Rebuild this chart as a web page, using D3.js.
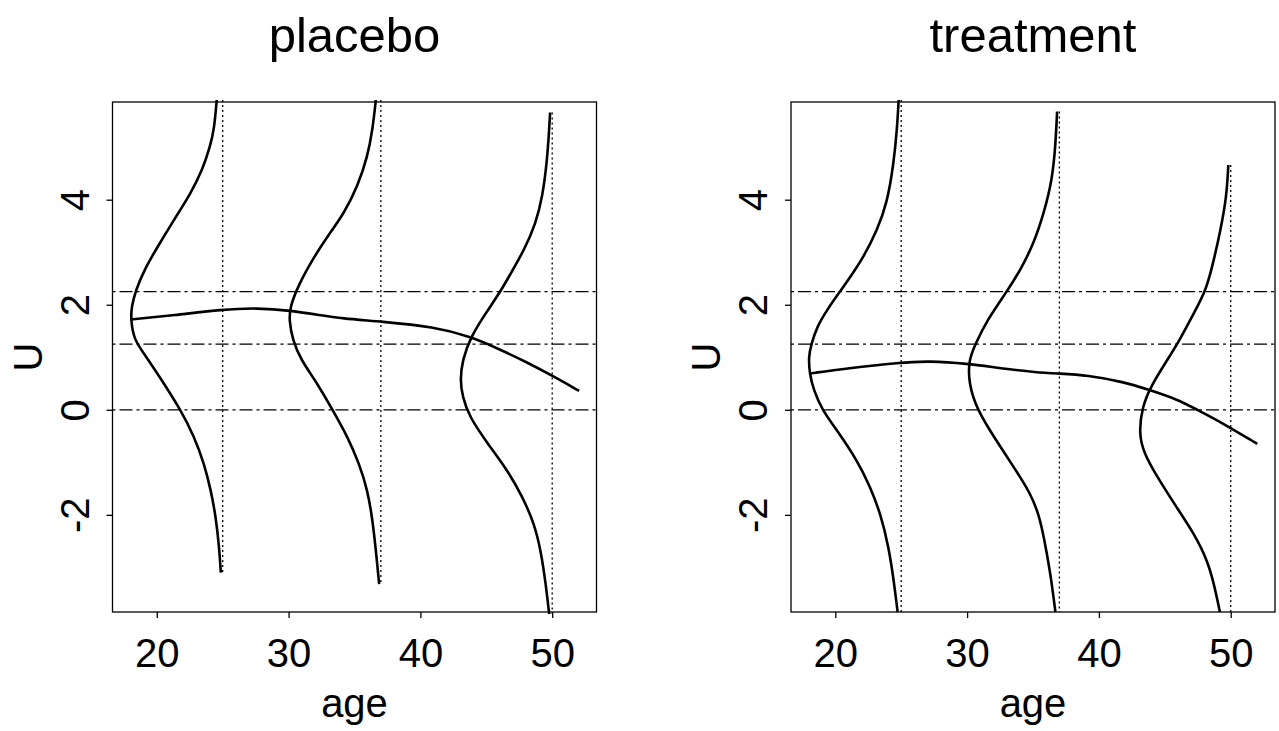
<!DOCTYPE html>
<html>
<head>
<meta charset="utf-8">
<script src="https://cdn.jsdelivr.net/npm/d3@7"></script>
<style>
  body { margin: 0; background: #fff; }
  svg { display: block; }
  text { font-family: "Liberation Sans", Arial, Helvetica, sans-serif; fill: #000; }
</style>
</head>
<body>
<svg id="chart" width="1279" height="731"></svg>
<script>
// Axis ticks and reference levels
const ageTicks = [20, 30, 40, 50];
const uTicks = [-2, 0, 2, 4];
const refLevels = [0, 1.25, 2.25];
const sliceAges = [25, 37, 50];
const panelTitles = ["placebo", "treatment"];

// Fitted mean of U over age, [age, U]
const placeboMean = [[18.03,1.72],[21.31,1.80],[24.98,1.91],[27.64,1.94],[30.17,1.89],[32.44,1.80],[33.96,1.74],[37.00,1.68],[41.04,1.58],[43.82,1.39],[45.59,1.20],[48.13,0.90],[50.14,0.63],[52.04,0.36]];
const treatmentMean = [[18.05,0.69],[20.89,0.79],[24.94,0.90],[27.08,0.93],[30.00,0.88],[32.53,0.79],[35.30,0.71],[36.96,0.69],[39.11,0.66],[41.89,0.53],[43.79,0.38],[45.94,0.20],[47.46,0.00],[49.23,-0.23],[52.02,-0.65]];

// Conditional density of U at ages 25, 37, 50, drawn sideways to the left of each age: [age, U]
const placebo25 = [[24.55,5.90],[24.35,5.33],[24.04,5.01],[23.47,4.57],[22.58,4.12],[21.31,3.62],[20.05,3.10],[19.04,2.66],[18.41,2.28],[18.08,1.96],[18.03,1.71],[18.28,1.33],[19.04,1.07],[20.05,0.69],[21.82,0.00],[22.83,-0.51],[23.59,-1.02],[24.10,-1.53],[24.48,-2.04],[24.73,-2.61],[24.86,-3.10]];
const placebo37 = [[36.62,5.90],[36.37,5.33],[35.99,4.82],[35.23,4.25],[34.21,3.74],[32.95,3.30],[31.93,2.91],[30.75,2.38],[30.11,1.96],[30.04,1.71],[30.30,1.33],[30.93,0.95],[32.19,0.50],[33.33,0.00],[34.47,-0.51],[35.35,-1.02],[35.99,-1.53],[36.37,-2.10],[36.62,-2.67],[36.87,-3.32]];
const placebo50 = [[49.84,5.66],[49.77,5.33],[49.59,4.69],[49.26,4.06],[48.76,3.55],[47.87,3.04],[46.86,2.60],[46.10,2.26],[44.96,1.84],[43.82,1.39],[43.19,0.95],[43.01,0.57],[43.19,0.25],[43.70,-0.13],[45.09,-0.64],[46.61,-1.15],[47.75,-1.66],[48.63,-2.16],[49.13,-2.67],[49.51,-3.31],[49.77,-3.89]];
const treatment25 = [[24.81,5.90],[24.68,5.33],[24.43,4.69],[23.93,3.93],[23.17,3.42],[22.15,2.91],[21.14,2.53],[20.38,2.26],[19.37,1.90],[18.61,1.58],[18.18,1.25],[17.97,1.01],[18.05,0.69],[18.35,0.38],[18.99,0.00],[20.13,-0.39],[21.65,-0.96],[22.66,-1.47],[23.42,-1.97],[24.05,-2.61],[24.43,-3.24],[24.73,-3.85]];
const treatment37 = [[36.83,5.68],[36.70,5.01],[36.45,4.37],[35.82,3.74],[35.06,3.17],[34.05,2.66],[33.04,2.26],[31.52,1.71],[30.63,1.25],[30.12,0.95],[30.12,0.50],[30.76,0.00],[32.02,-0.51],[33.54,-1.09],[34.81,-1.59],[35.45,-2.00],[35.82,-2.42],[36.33,-3.12],[36.70,-3.85]];
const treatment50 = [[49.82,4.66],[49.69,4.06],[49.23,3.42],[48.60,2.72],[48.09,2.26],[47.21,1.84],[46.07,1.30],[45.19,0.95],[43.92,0.44],[43.29,0.06],[43.03,-0.45],[43.41,-0.83],[44.43,-1.28],[45.69,-1.78],[47.21,-2.35],[48.22,-2.86],[48.73,-3.31],[49.18,-3.85]];

const panels = [
  { title: panelTitles[0], mean: placeboMean, slices: [placebo25, placebo37, placebo50], left: 112.5 },
  { title: panelTitles[1], mean: treatmentMean, slices: [treatment25, treatment37, treatment50], left: 791 }
];

const svg = d3.select("#chart");
const plotTop = 102, plotBottom = 612, plotWidth = 484;
const ageDomain = [16.64, 53.36];
const uDomain = [-3.85, 5.86];
const tickFont = 40;

panels.forEach((p, i) => {
  const x = d3.scaleLinear().domain(ageDomain).range([p.left, p.left + plotWidth]);
  const y = d3.scaleLinear().domain(uDomain).range([plotBottom, plotTop]);
  const cx = p.left + plotWidth / 2;
  const g = svg.append("g");

  const clipId = "clip" + i;
  svg.append("clipPath").attr("id", clipId)
    .append("rect")
    .attr("x", p.left - 2).attr("y", plotTop - 2)
    .attr("width", plotWidth + 4).attr("height", plotBottom - plotTop + 4);

  const plot = g.append("g").attr("clip-path", `url(#${clipId})`);

  // Horizontal reference levels (dash-dot)
  plot.selectAll("line.ref").data(refLevels).join("line")
    .attr("class", "ref")
    .attr("x1", p.left).attr("x2", p.left + plotWidth)
    .attr("y1", d => y(d)).attr("y2", d => y(d))
    .attr("stroke", "#000").attr("stroke-width", 1.3)
    .attr("stroke-dasharray", "3,4,13,4");

  // Vertical dotted lines at each slice age, spanning the density's range
  plot.selectAll("line.slice").data(p.slices).join("line")
    .attr("class", "slice")
    .attr("x1", (d, j) => x(sliceAges[j])).attr("x2", (d, j) => x(sliceAges[j]))
    .attr("y1", d => y(d3.max(d, v => v[1])))
    .attr("y2", d => y(d3.min(d, v => v[1])))
    .attr("stroke", "#000").attr("stroke-width", 1.3)
    .attr("stroke-dasharray", "2,3");

  const line = d3.line()
    .x(d => x(d[0])).y(d => y(d[1]))
    .curve(d3.curveBasis);

  // Density curves
  plot.selectAll("path.dens").data(p.slices).join("path")
    .attr("class", "dens")
    .attr("d", line)
    .attr("fill", "none").attr("stroke", "#000").attr("stroke-width", 2.6)
    .attr("stroke-linejoin", "round");

  // Mean curve
  plot.append("path")
    .datum(p.mean)
    .attr("d", line)
    .attr("fill", "none").attr("stroke", "#000").attr("stroke-width", 2.6)
    .attr("stroke-linejoin", "round");

  // Frame
  g.append("rect")
    .attr("x", p.left).attr("y", plotTop)
    .attr("width", plotWidth).attr("height", plotBottom - plotTop)
    .attr("fill", "none").attr("stroke", "#000").attr("stroke-width", 1.3);

  // Bottom axis
  const xa = g.append("g").attr("transform", `translate(0,${plotBottom})`)
    .call(d3.axisBottom(x).tickValues(ageTicks).tickSize(6).tickSizeOuter(0));
  xa.select(".domain").remove();
  xa.selectAll(".tick line").attr("stroke", "#000").attr("stroke-width", 1.3);
  xa.selectAll(".tick text")
    .attr("y", 55).attr("dy", 0)
    .style("font-size", tickFont + "px")
    .attr("fill", "#000");

  // Left axis with labels parallel to the axis
  const ya = g.append("g").attr("transform", `translate(${p.left},0)`)
    .call(d3.axisLeft(y).tickValues(uTicks).tickSize(6).tickSizeOuter(0).tickFormat(d3.format("d")));
  ya.select(".domain").remove();
  ya.selectAll(".tick line").attr("stroke", "#000").attr("stroke-width", 1.3);
  ya.selectAll(".tick text")
    .attr("x", null).attr("dy", null)
    .attr("transform", "translate(-24,0) rotate(-90)")
    .attr("text-anchor", "middle")
    .style("font-size", tickFont + "px")
    .attr("fill", "#000")
    .text(d => d < 0 ? "-" + Math.abs(d) : String(d));

  // Axis titles
  g.append("text")
    .attr("x", cx).attr("y", 716.5)
    .attr("text-anchor", "middle")
    .style("font-size", tickFont + "px")
    .text("age");

  g.append("text")
    .attr("transform", `translate(${p.left - 71},${(plotTop + plotBottom) / 2}) rotate(-90)`)
    .attr("text-anchor", "middle")
    .style("font-size", tickFont + "px")
    .text("U");

  // Panel title
  g.append("text")
    .attr("x", cx).attr("y", 51.7)
    .attr("text-anchor", "middle")
    .style("font-size", "49px")
    .text(p.title);
});
</script>
</body>
</html>
